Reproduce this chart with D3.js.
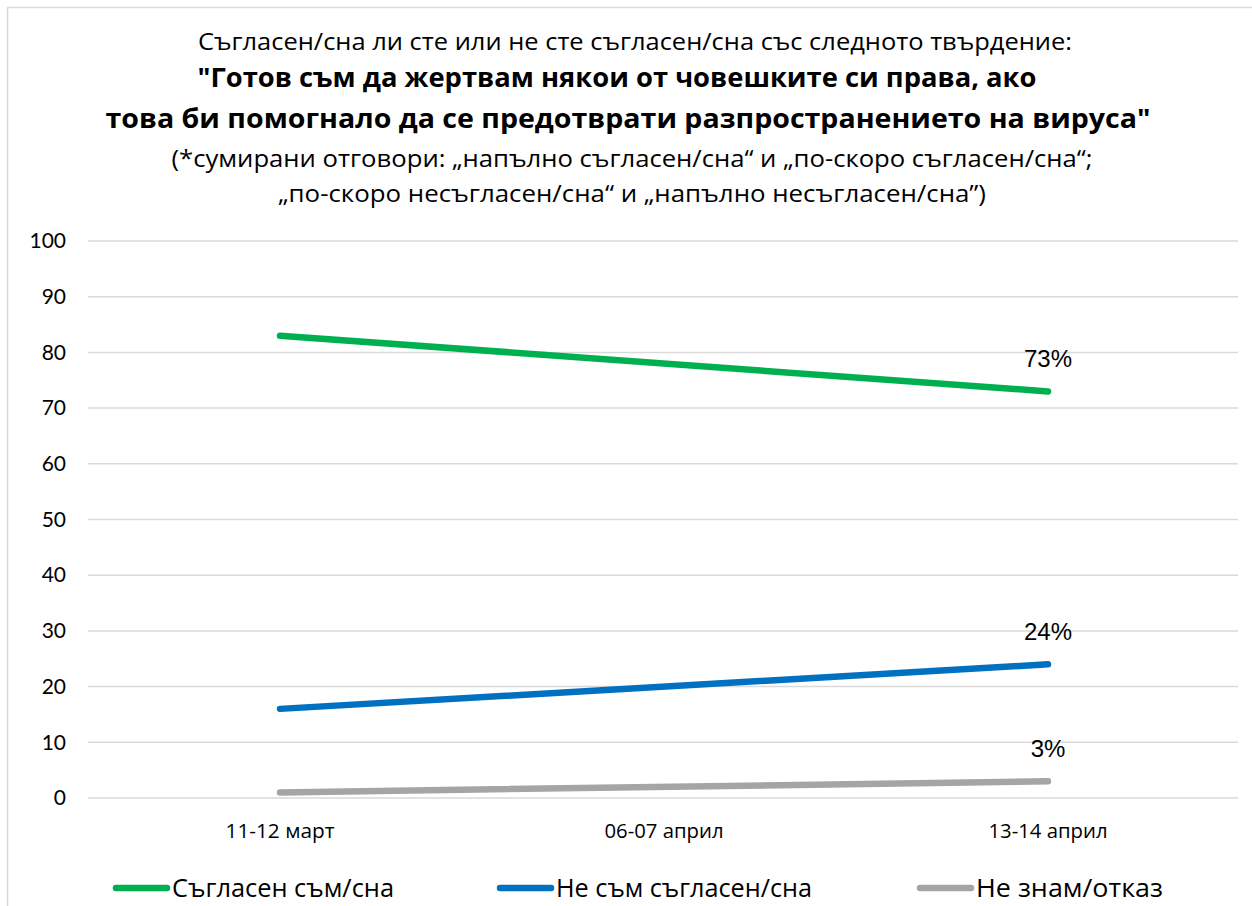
<!DOCTYPE html>
<html>
<head>
<meta charset="utf-8">
<script src="https://cdn.jsdelivr.net/npm/d3@7"></script>
<style>
  body { margin: 0; background: #fff; }
  svg { display: block; }
</style>
</head>
<body>
<svg id="chart"></svg>
<script>
// data
const categories = ["11-12 март", "06-07 април", "13-14 април"];
const seriesNames = ["Съгласен съм/сна", "Не съм съгласен/сна", "Не знам/отказ"];
const agree = [83, null, 73];
const disagree = [16, null, 24];
const dontKnow = [1, null, 3];
const yTicks = [0, 10, 20, 30, 40, 50, 60, 70, 80, 90, 100];
const titleLines = [
    "Съгласен/сна ли сте или не сте съгласен/сна със следното твърдение:",
    "\"Готов съм да жертвам някои от човешките си права, ако",
    "това би помогнало да се предотврати разпространението на вируса\"",
    "(*сумирани отговори: „напълно съгласен/сна“ и „по-скоро съгласен/сна“;",
    "„по-скоро несъгласен/сна“ и „напълно несъгласен/сна”)"
];

const colors = ["#00b050", "#0070c0", "#a5a5a5"];
const series = [agree, disagree, dontKnow];

const width = 1252, height = 906;
const margin = { top: 241, right: 14, bottom: 108, left: 88 };
const innerW = width - margin.left - margin.right;
const innerH = height - margin.top - margin.bottom;

const svg = d3.select("#chart").attr("width", width).attr("height", height);

// frame
svg.append("path")
    .attr("d", `M7.5,${height} V7.5 H${width}`)
    .attr("fill", "none").attr("stroke", "#d9d9d9").attr("stroke-width", 1.5);

// title
const title = svg.append("g");
const tl = [
    { y: 50, size: 23, weight: "normal", len: 874, x: 635 },
    { y: 87, size: 27, weight: "bold", len: 839, x: 617 },
    { y: 128, size: 27, weight: "bold", len: 1045, x: 628 },
    { y: 167, size: 23, weight: "normal", len: 921, x: 632 },
    { y: 202, size: 23, weight: "normal", len: 708, x: 632 }
];
titleLines.forEach((t, i) => {
    title.append("text")
        .attr("x", tl[i].x).attr("y", tl[i].y)
        .attr("text-anchor", "middle")
        .attr("font-family", "'Open Sans', 'Noto Sans', sans-serif")
        .attr("font-size", tl[i].size)
        .attr("font-weight", tl[i].weight)
        .attr("textLength", tl[i].len)
        .attr("lengthAdjust", "spacingAndGlyphs")
        .attr("fill", "#000")
        .text(t);
});

const g = svg.append("g").attr("transform", `translate(${margin.left},${margin.top})`);

const x = d3.scaleBand().domain(categories).range([0, 3 * 384]);
const y = d3.scaleLinear().domain([0, 100]).range([innerH, 0]);

// grid
g.append("g").selectAll("line").data(yTicks).join("line")
    .attr("x1", 0).attr("x2", 3 * 384 - 2)
    .attr("y1", d => y(d)).attr("y2", d => y(d))
    .attr("stroke", "#d9d9d9").attr("stroke-width", 1.5);

// y axis
const yAxis = g.append("g")
    .call(d3.axisLeft(y).tickValues(yTicks).tickSize(0).tickPadding(22));
yAxis.select(".domain").remove();
yAxis.selectAll("text")
    .attr("font-family", "Lato, 'DejaVu Sans', sans-serif")
    .attr("font-size", 21).attr("fill", "#000");

// x axis
const xAxis = g.append("g").attr("transform", `translate(0,${innerH})`)
    .call(d3.axisBottom(x).tickSize(0).tickPadding(26));
xAxis.select(".domain").remove();
xAxis.selectAll("text")
    .attr("font-family", "'Open Sans', 'Noto Sans', sans-serif")
    .attr("font-size", 20).attr("fill", "#000")
    .attr("textLength", d => d.indexOf("март") >= 0 ? 109 : 119)
    .attr("lengthAdjust", "spacingAndGlyphs");

// lines
const line = d3.line()
    .x(d => x(d.cat) + x.bandwidth() / 2)
    .y(d => y(d.v));

series.forEach((vals, i) => {
    const pts = vals.map((v, j) => ({ cat: categories[j], v })).filter(d => d.v !== null);
    g.append("path")
        .attr("d", line(pts))
        .attr("fill", "none")
        .attr("stroke", colors[i])
        .attr("stroke-width", 6.5)
        .attr("stroke-linecap", "round")
        .attr("stroke-linejoin", "round");
    const last = pts[pts.length - 1];
    g.append("text")
        .attr("x", x(last.cat) + x.bandwidth() / 2)
        .attr("y", y(last.v) - 24)
        .attr("text-anchor", "middle")
        .attr("font-family", "'Liberation Sans', Arial, sans-serif")
        .attr("font-size", 24)
        .attr("fill", "#000")
        .text(last.v + "%");
});

// legend
const legendX = [113, 497, 917];
const legend = svg.append("g");
seriesNames.forEach((name, i) => {
    legend.append("line")
        .attr("x1", legendX[i] + 3).attr("x2", legendX[i] + 54)
        .attr("y1", 888).attr("y2", 888)
        .attr("stroke", colors[i]).attr("stroke-width", 6.5)
        .attr("stroke-linecap", "round");
    legend.append("text")
        .attr("x", legendX[i] + 59).attr("y", 897)
        .attr("font-family", "'Open Sans', 'Noto Sans', sans-serif")
        .attr("font-size", 25)
        .attr("fill", "#000")
        .attr("textLength", [222, 256, 187][i])
        .attr("lengthAdjust", "spacingAndGlyphs")
        .text(name);
});
</script>
</body>
</html>
